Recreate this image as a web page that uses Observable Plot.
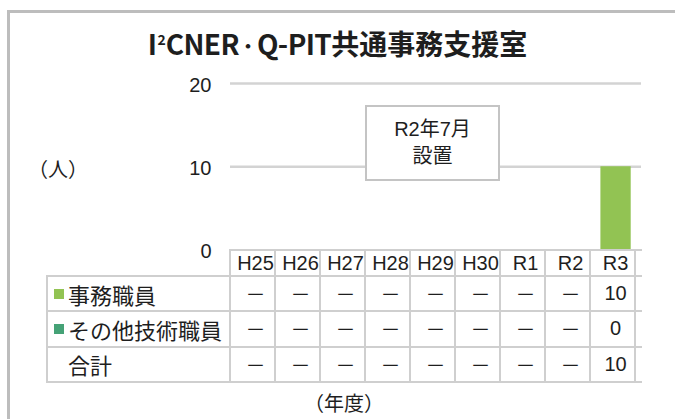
<!DOCTYPE html>
<html>
<head>
<meta charset="utf-8">
<script src="https://cdn.jsdelivr.net/npm/d3@7"></script>
<script src="https://cdn.jsdelivr.net/npm/@observablehq/plot@0.6"></script>
<style>
  body { margin: 0; background: #fff; }
  #wrap { position: relative; width: 675px; height: 419px; overflow: hidden; background: #fff;
    font-family: "Liberation Sans", "Noto Sans CJK JP", sans-serif; color: #1e1e1e; }
  #frame { position: absolute; left: 7px; top: 10px; width: 800px; height: 600px;
    border: 3px solid #bdbdbd; box-sizing: border-box; }
  #title { position: absolute; left: 0; top: 25px; width: 675px; text-align: center;
    font-weight: bold; font-size: 28px; line-height: 36px;
    font-family: "Noto Sans CJK JP", sans-serif; white-space: nowrap; }
  #title .lat { letter-spacing: -0.6px; }
  #title .sup { font-size: 14px; position: relative; top: -10px; margin-left: 1px; }
  #title .dot { font-size: 18px; position: relative; top: -2px; }
  #chart { position: absolute; left: 0; top: 0; }
  .abs { position: absolute; }
  .hline { position: absolute; height: 2px; background: #cfcfcf; }
  .vline { position: absolute; width: 2px; background: #cfcfcf; }
  .cell { position: absolute; display: flex; align-items: center; justify-content: center;
    font-size: 20px; white-space: nowrap; }
  .lab { justify-content: flex-start; padding-left: 7px; box-sizing: border-box; font-size: 22px; }
  .sw { display: inline-block; width: 10px; height: 10px; margin-right: 4px; }
  #note { position: absolute; background: #fff; border: 2px solid #c4c4c4; box-sizing: border-box;
    display: flex; flex-direction: column; align-items: center; justify-content: center;
    font-size: 20px; line-height: 27px; }
  #yunit, #xunit { position: absolute; font-size: 20px; white-space: nowrap; }
</style>
</head>
<body>
<div id="wrap">
  <div id="frame"></div>
  <div id="chart"></div>
  <div id="title"></div>
</div>
<script>
// ---- data ----
const years = ["H25", "H26", "H27", "H28", "H29", "H30", "R1", "R2", "R3"];
const seriesNames = ["事務職員", "その他技術職員"];
const clerical = [null, null, null, null, null, null, null, null, 10];   // 事務職員
const technical = [null, null, null, null, null, null, null, null, 0];   // その他技術職員
const totals = [null, null, null, null, null, null, null, null, 10];     // 合計
const totalLabel = "合計";
const yTicks = [0, 10, 20];
const seriesColors = ["#92c353", "#45a276"];
const titleParts = ["I", "2", "CNER", "・", "Q-PIT", "共通事務支援室"];
const noteLines = ["R2年7月", "設置"];
const yUnit = "（人）";
const xUnit = "（年度）";
const emptyMark = "－";

const seriesValues = [clerical, technical];
const barData = seriesNames.flatMap((s, si) =>
  years.map((y, i) => ({ year: y, series: s, value: seriesValues[si][i] }))
       .filter(d => d.value != null));

// ---- title ----
const title = document.getElementById("title");
title.innerHTML = `<span class="lat">${titleParts[0]}</span><span class="sup">${titleParts[1]}</span>` +
  `<span class="lat">${titleParts[2]}</span><span class="dot">${titleParts[3]}</span>` +
  `<span class="lat">${titleParts[4]}</span>${titleParts[5]}`;

// ---- chart ----
const chart = Plot.plot({
  width: 675,
  height: 419,
  marginLeft: 230,
  marginRight: 34,
  marginTop: 83,
  marginBottom: 169.5,
  x: { domain: years, padding: 0, axis: null },
  y: { domain: [0, 20], axis: null },
  color: { domain: seriesNames, range: seriesColors },
  style: { fontFamily: '"Liberation Sans", "Noto Sans CJK JP", sans-serif', fontSize: "20px",
           color: "#1e1e1e", background: "transparent", overflow: "visible" },
  marks: [
    Plot.ruleY(yTicks.filter(d => d > 0), { stroke: "#d3d3d3", strokeWidth: 2.5 }),
    Plot.barY(barData, Plot.stackY({ x: "year", y: "value", fill: "series", insetLeft: 7.4, insetRight: 7.3 })),
    Plot.axisY({ ticks: yTicks, tickSize: 0, tickPadding: 19, dy: 2, fontSize: 20, fill: "#1e1e1e", label: null })
  ]
});
document.getElementById("chart").appendChild(chart);

const wrap = document.getElementById("wrap");
const xs = chart.scale("x");
const ys = chart.scale("y");
const bw = xs.bandwidth;
const x0 = xs.range[0];
const x1 = xs.range[1];
const yBase = ys.apply(0);

// ---- annotation box ----
const note = document.createElement("div");
note.id = "note";
const nx = xs.apply("H28") - 3;
const nw = xs.apply("H30") + bw - 3 - nx;
note.style.left = nx + "px";
note.style.top = ys.apply(17.35) + "px";
note.style.width = nw + "px";
note.style.height = (ys.apply(8.2) - ys.apply(17.35)) + "px";
note.innerHTML = noteLines.map(t => `<div>${t}</div>`).join("");
wrap.appendChild(note);

// ---- data table ----
const tableLeft = 47;
const rowHeights = [26.5, 35.2, 35.4, 35.2];
const rowTops = [yBase];
rowHeights.forEach((h, i) => rowTops.push(rowTops[i] + h));
const tableBottom = rowTops[rowTops.length - 1];

function add(cls, style, html) {
  const el = document.createElement("div");
  el.className = cls;
  Object.assign(el.style, style);
  if (html != null) el.innerHTML = html;
  wrap.appendChild(el);
  return el;
}
// horizontal lines
add("hline", { left: (x0 - 1) + "px", width: (x1 - x0 + 2) + "px", top: (rowTops[0] - 1) + "px" });
for (let r = 1; r < rowTops.length; r++) {
  add("hline", { left: (tableLeft - 1) + "px", width: (x1 - tableLeft + 2) + "px", top: (rowTops[r] - 1) + "px" });
}
// vertical lines
add("vline", { left: (tableLeft - 1) + "px", top: (rowTops[1] - 1) + "px", height: (tableBottom - rowTops[1] + 2) + "px" });
for (let i = 0; i <= years.length; i++) {
  const xv = x0 + i * bw;
  add("vline", { left: (xv - 1) + "px", top: (rowTops[0] - 1) + "px", height: (tableBottom - rowTops[0] + 2) + "px" });
}
// header
years.forEach(y => {
  add("cell", { left: xs.apply(y) + "px", width: bw + "px", top: rowTops[0] + 1 + "px", height: rowHeights[0] + "px" }, y);
});
// rows
const rowLabels = [seriesNames[0], seriesNames[1], totalLabel];
const rowValues = [clerical, technical, totals];
rowLabels.forEach((lab, r) => {
  const sw = r < seriesColors.length
    ? `<span class="sw" style="background:${seriesColors[r]}"></span>`
    : `<span class="sw" style="background:transparent"></span>`;
  add("cell lab", { left: tableLeft + "px", width: (x0 - tableLeft) + "px", top: rowTops[r + 1] + "px", height: rowHeights[r + 1] + "px" }, sw + lab);
  years.forEach((y, i) => {
    const v = rowValues[r][i];
    add("cell", { left: xs.apply(y) + "px", width: bw + "px", top: rowTops[r + 1] + "px", height: rowHeights[r + 1] + "px" },
      v == null ? emptyMark : String(v));
  });
});

// units
const yu = add("abs", {}, yUnit); yu.id = "yunit";
yu.style.left = "28px"; yu.style.top = (ys.apply(10) - 12) + "px";
const xu = add("abs", {}, xUnit); xu.id = "xunit";
xu.style.left = ((tableLeft + x1) / 2 - 40) + "px"; xu.style.top = (tableBottom + 6) + "px";
</script>
</body>
</html>
